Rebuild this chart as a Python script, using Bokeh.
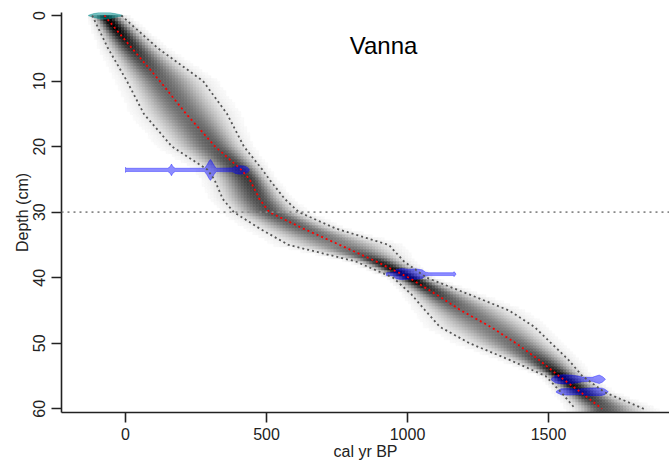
import numpy as np
from bokeh.plotting import figure
from bokeh.models import Range1d, Span, Label, FixedTicker, ColumnDataSource, Title
from bokeh.embed import file_html
from bokeh.resources import INLINE

# ---- age-depth model ----
depth_nodes = [0, 5, 10, 15, 20, 23.5, 25, 28, 30, 32.5, 35, 37.5, 40, 42.5, 45, 47.5, 50, 52.5, 55, 57.5, 60]
mean_age = [-75, 23, 122, 215, 318, 410, 440, 475, 510, 630, 760, 888, 1005, 1100, 1190, 1295, 1385, 1465, 1537, 1615, 1690]
min_age = [-118, -62, 5, 65, 165, 290, 315, 345, 384, 476, 578, 815, 949, 1013, 1063, 1115, 1220, 1360, 1490, 1545, 1595]
max_age = [-15, 115, 275, 360, 420, 485, 510, 565, 615, 746, 934, 987, 1068, 1216, 1360, 1450, 1510, 1570, 1620, 1700, 1838]

# ---- dated levels: calibrated distributions (age, half-height in cm) ----
surf_depth = 0.0
surf_ages = [-131, -112, -92, -75, -58, -38, -11]
surf_half = [0.05, 0.3, 0.5, 0.55, 0.5, 0.3, 0.05]

d1_depth = 23.55
d1_ages = [0, 1, 150, 158, 163, 168, 176, 280, 288, 296, 301, 306, 314, 322, 380, 390, 405, 420, 432, 440]
d1_half = [0.4, 0.25, 0.25, 0.5, 0.9, 0.5, 0.25, 0.25, 0.7, 1.3, 1.6, 1.3, 0.7, 0.25, 0.3, 0.55, 0.65, 0.6, 0.4, 0.0]

d2_depth = 39.45
d2_ages = [925, 948, 960, 980, 1005, 1030, 1052, 1064, 1075, 1160, 1166, 1172]
d2_half = [0.2, 0.25, 0.7, 0.85, 0.75, 0.8, 0.65, 0.3, 0.22, 0.22, 0.35, 0.0]

d3_depth = 55.5
d3_ages = [1510, 1525, 1550, 1580, 1605, 1620, 1655, 1668, 1680, 1692, 1702]
d3_half = [0.1, 0.55, 0.7, 0.65, 0.5, 0.35, 0.3, 0.5, 0.65, 0.4, 0.0]

d4_depth = 57.4
d4_ages = [1528, 1545, 1570, 1600, 1615, 1640, 1670, 1690, 1700, 1712]
d4_half = [0.1, 0.45, 0.5, 0.4, 0.45, 0.55, 0.6, 0.55, 0.4, 0.0]

boundary_depth = 30
x_ticks = [0, 500, 1000, 1500]
y_ticks = [0, 10, 20, 30, 40, 50, 60]
x_title = "cal yr BP"
y_title = "Depth (cm)"
core_name = "Vanna"

FONT = "Liberation Sans"
FS = "16px"

p = figure(width=669, height=463,
           x_range=Range1d(-227, 1929), y_range=Range1d(60.56, -0.46),
           output_backend="svg", toolbar_location=None,
           min_border_left=61, min_border_right=0, min_border_top=12, min_border_bottom=51)
p.grid.visible = False
p.outline_line_color = None
p.background_fill_color = "white"
p.border_fill_color = "white"

# ---- grey density from the model ----
age_step = 10.6
depth_step = 0.458
dn = np.array(depth_nodes, float)
l, r, t, b, col = [], [], [], [], []
ages_grid = np.arange(-227, 1929, age_step)
for d0 in np.arange(0, 60.56, depth_step):
    dc = d0 + depth_step / 2
    m = np.interp(dc, dn, mean_age)
    lo = np.interp(dc, dn, min_age)
    hi = np.interp(dc, dn, max_age)
    sl = max((m - lo) / 1.96, 5)
    sr = max((hi - m) / 1.96, 5)
    peak = min(1.0, 1.15 * (110.0 / (hi - lo)) ** 0.7)
    ac = ages_grid + age_step / 2
    z = np.where(ac < m, (ac - m) / sl, (ac - m) / sr)
    a = peak * np.exp(-0.5 * z * z)
    for x0, av in zip(ages_grid, a):
        if av > 0.02:
            g = int(round(255 * (1 - av)))
            l.append(x0); r.append(x0 + age_step)
            t.append(d0); b.append(d0 + depth_step)
            col.append("#%02x%02x%02x" % (g, g, g))
src = ColumnDataSource(dict(left=l, right=r, top=t, bottom=b, color=col))
p.quad(left="left", right="right", top="top", bottom="bottom", source=src,
       fill_color="color", line_color="color", line_width=0.6)

# ---- dates ----
def poly(depth, ages, half):
    xs = list(ages) + list(ages[::-1])
    ys = [depth - h for h in half] + [depth + h for h in half[::-1]]
    return xs, ys

sx, sy = poly(surf_depth, surf_ages, surf_half)
p.patch(sx, sy, fill_color="#008B8B", fill_alpha=0.55, line_color="#008B8B", line_alpha=0.4, line_width=1)

bx, by = [], []
for dd, aa, hh in [(d1_depth, d1_ages, d1_half), (d2_depth, d2_ages, d2_half),
                   (d3_depth, d3_ages, d3_half), (d4_depth, d4_ages, d4_half)]:
    xs, ys = poly(dd, aa, hh)
    bx.append(xs); by.append(ys)
p.patches(bx, by, fill_color="blue", fill_alpha=0.45, line_color="blue", line_alpha=0.35, line_width=1)

# ---- ranges and mean ----
p.line(min_age, depth_nodes, line_color="#555555", line_dash="2 3", line_width=1.8)
p.line(max_age, depth_nodes, line_color="#555555", line_dash="2 3", line_width=1.8)
p.line(mean_age, depth_nodes, line_color="red", line_dash="2 3", line_width=1.8)

p.add_layout(Span(location=boundary_depth, dimension="width", line_color="#888888",
                  line_dash="2 4", line_width=1.6))

p.add_layout(Label(x=915, y=4.6, text=core_name, text_align="center", text_baseline="middle",
                   text_font=FONT, text_font_size="24px", text_color="black"))

# ---- axes ----
for ax in (p.xaxis[0], p.yaxis[0]):
    ax.axis_line_color = "#222222"
    ax.axis_line_width = 1.6
    ax.major_tick_line_color = "#222222"
    ax.major_tick_line_width = 1.6
    ax.major_tick_out = 10
    ax.major_tick_in = 0
    ax.minor_tick_line_color = None
    ax.major_label_text_font = FONT
    ax.major_label_text_font_size = FS
    ax.major_label_text_color = "#222222"
    ax.axis_label_text_font = FONT
    ax.axis_label_text_font_size = FS
    ax.axis_label_text_font_style = "normal"
    ax.axis_label_text_color = "#222222"

p.xaxis.ticker = FixedTicker(ticks=x_ticks)
p.yaxis.ticker = FixedTicker(ticks=y_ticks)
p.xaxis.axis_label = x_title
p.xaxis.major_label_standoff = 5
p.xaxis.axis_label_standoff = 0
p.yaxis.major_label_orientation = "vertical"
p.yaxis.major_label_standoff = 6

p.add_layout(Title(text=y_title, align="center", text_font=FONT, text_font_size=FS,
                   text_font_style="normal", text_color="#222222", standoff=0, offset=0), "left")

open("out.html", "w").write(file_html(p, INLINE))
